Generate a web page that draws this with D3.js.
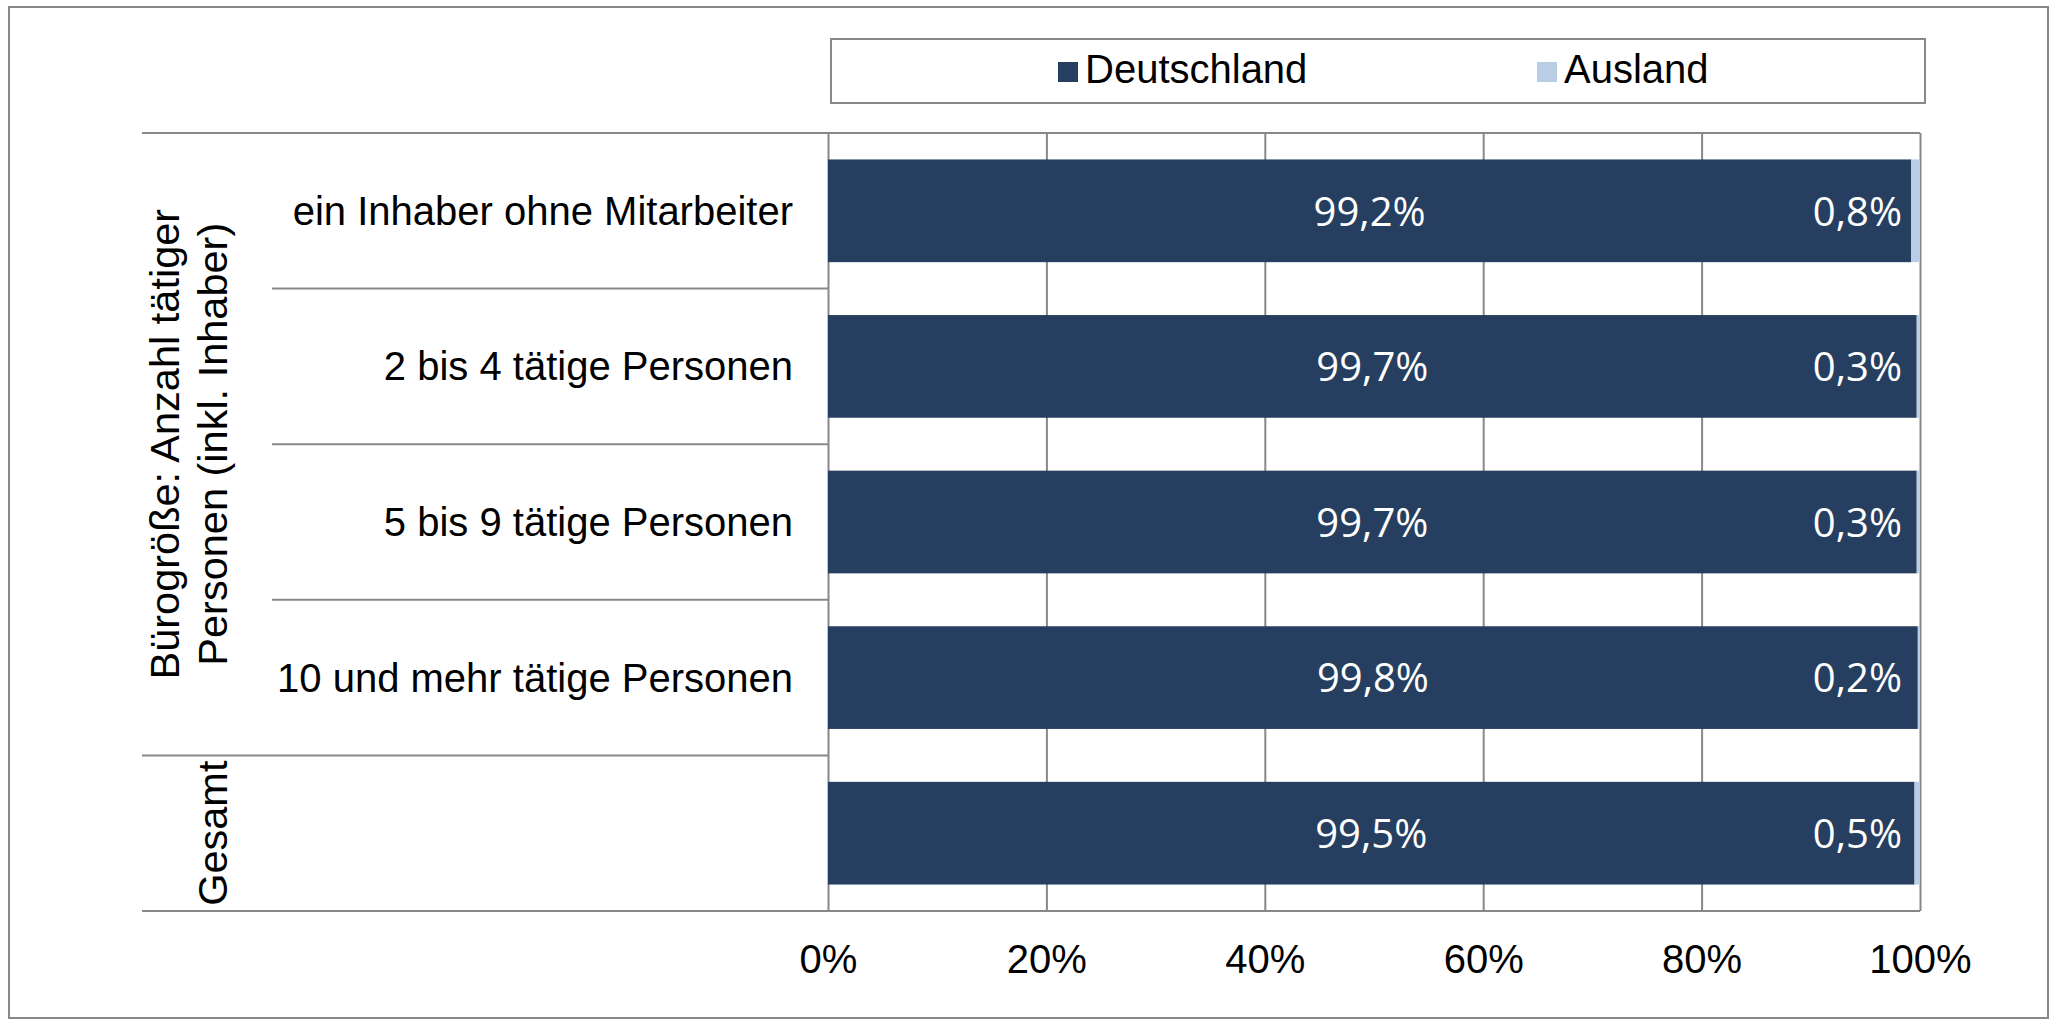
<!DOCTYPE html>
<meta charset="utf-8">
<style>
body {
  margin: 0;
  background: #fff;
}
text {
  font-family: "Liberation Sans", Arial, sans-serif;
  fill: #000;
}
.lbl {
  font-family: "Open Sans", sans-serif;
  fill: #fff;
}
</style>
<body>
<script src="https://cdn.jsdelivr.net/npm/d3@7"></script>
<script>

var width = 2060,
    height = 1025;

// data
var categories = ["ein Inhaber ohne Mitarbeiter", "2 bis 4 tätige Personen", "5 bis 9 tätige Personen", "10 und mehr tätige Personen", ""];
var deutschland = [99.2, 99.7, 99.7, 99.8, 99.5];
var ausland = [0.8, 0.3, 0.3, 0.2, 0.5];
var seriesNames = ["Deutschland", "Ausland"];
var colors = ["#263f60", "#b9cde5"];
var groups = [
  {label: ["Bürogröße: Anzahl tätiger", "Personen (inkl. Inhaber)"], from: 0, to: 3},
  {label: ["Gesamt"], from: 4, to: 4}
];
var ticks = [0, 20, 40, 60, 80, 100];

var plot = {left: 828, right: 1920, top: 133, bottom: 911};
var grey = "#888";

var svg = d3.select("body").append("svg")
    .attr("width", width)
    .attr("height", height);

// outer frame
svg.append("rect")
    .attr("x", 9).attr("y", 7)
    .attr("width", 2039).attr("height", 1011)
    .attr("fill", "none")
    .attr("stroke", grey)
    .attr("stroke-width", 2);

var x = d3.scaleLinear().domain([0, 100]).range([plot.left, plot.right]);
var y = d3.scaleBand()
    .domain(d3.range(categories.length))
    .range([plot.top, plot.bottom])
    .paddingInner(0.34)
    .paddingOuter(0.17);
var step = y.step();

// gridlines + tick labels
var axis = d3.axisBottom(x)
    .tickValues(ticks)
    .tickSize(-(plot.bottom - plot.top))
    .tickFormat(function(d) { return d + "%"; });

var gAxis = svg.append("g")
    .attr("transform", "translate(0," + plot.bottom + ")")
    .call(axis);
gAxis.select(".domain").remove();
gAxis.selectAll(".tick line").attr("stroke", grey).attr("stroke-width", 2);
gAxis.selectAll(".tick text")
    .attr("y", 62)
    .attr("dy", 0)
    .attr("fill", "#000")
    .style("font-family", "'Liberation Sans', Arial, sans-serif")
    .style("font-size", "40px");

// horizontal structure lines of the category axis
svg.append("line")
    .attr("x1", 142).attr("x2", plot.right)
    .attr("y1", plot.top).attr("y2", plot.top)
    .attr("stroke", grey).attr("stroke-width", 2);
svg.append("line")
    .attr("x1", 142).attr("x2", plot.right)
    .attr("y1", plot.bottom).attr("y2", plot.bottom)
    .attr("stroke", grey).attr("stroke-width", 2);

groups.forEach(function(g, gi) {
  if (gi > 0) {
    var yy = plot.top + step * g.from;
    svg.append("line")
        .attr("x1", 142).attr("x2", plot.left)
        .attr("y1", yy).attr("y2", yy)
        .attr("stroke", grey).attr("stroke-width", 2);
  }
  for (var i = g.from + 1; i <= g.to; i++) {
    var ys = plot.top + step * i;
    svg.append("line")
        .attr("x1", 272).attr("x2", plot.left)
        .attr("y1", ys).attr("y2", ys)
        .attr("stroke", grey).attr("stroke-width", 2);
  }
  var yc = plot.top + step * (g.from + g.to + 1) / 2;
  var n = g.label.length;
  g.label.forEach(function(line, li) {
    var bx = 227 - (n - 1 - li) * 48;
    svg.append("text")
        .attr("transform", "translate(" + bx + "," + yc + ") rotate(-90)")
        .attr("text-anchor", "middle")
        .style("font-size", "41.5px")
        .text(line);
  });
});

// category labels
svg.selectAll(".cat")
    .data(categories)
  .enter().append("text")
    .attr("class", "cat")
    .attr("x", 793)
    .attr("y", function(d, i) { return y(i) + y.bandwidth() / 2; })
    .attr("dy", "0.35em")
    .attr("text-anchor", "end")
    .style("font-size", "40px")
    .text(function(d) { return d; });

// stacked bars
var rows = categories.map(function(c, i) { return [deutschland[i], ausland[i]]; });

rows.forEach(function(r, i) {
  var x0 = 0;
  r.forEach(function(v, s) {
    svg.append("rect")
        .attr("x", x(x0))
        .attr("y", y(i))
        .attr("width", x(x0 + v) - x(x0))
        .attr("height", y.bandwidth())
        .attr("fill", colors[s]);
    x0 += v;
  });
});

var fmt = function(v) { return v.toFixed(1).replace(".", ",") + "%"; };

// data labels
svg.selectAll(".lblD")
    .data(deutschland)
  .enter().append("text")
    .attr("class", "lbl")
    .attr("x", function(d) { return (x(0) + x(d)) / 2; })
    .attr("y", function(d, i) { return y(i) + y.bandwidth() / 2; })
    .attr("dy", "0.37em")
    .attr("text-anchor", "middle")
    .style("font-size", "40px")
    .text(fmt);

svg.selectAll(".lblA")
    .data(ausland)
  .enter().append("text")
    .attr("class", "lbl")
    .attr("x", function(d, i) { return x(deutschland[i] + d) - 18; })
    .attr("y", function(d, i) { return y(i) + y.bandwidth() / 2; })
    .attr("dy", "0.37em")
    .attr("text-anchor", "end")
    .style("font-size", "40px")
    .text(fmt);

// legend
var legend = svg.append("g");
legend.append("rect")
    .attr("x", 831).attr("y", 39)
    .attr("width", 1094).attr("height", 64)
    .attr("fill", "#fff")
    .attr("stroke", grey)
    .attr("stroke-width", 2);

var legendX = [1058, 1537];
seriesNames.forEach(function(name, i) {
  legend.append("rect")
      .attr("x", legendX[i]).attr("y", 62)
      .attr("width", 20).attr("height", 20)
      .attr("fill", colors[i]);
  legend.append("text")
      .attr("x", legendX[i] + 27)
      .attr("y", 83)
      .style("font-size", "40px")
      .text(name);
});

</script>
